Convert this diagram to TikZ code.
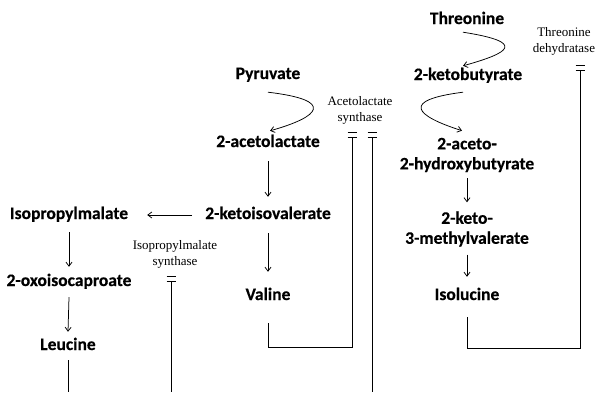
\documentclass[tikz,border=0pt]{standalone}
\usepackage{fontspec}
\setmainfont{Liberation Serif}
\newfontfamily\boldsans{Carlito}[BoldFeatures={FakeBold=0.4}]
\usetikzlibrary{arrows.meta}
\newcommand\inhbar[1]{%
  \draw[inh] ([xshift=-4.5pt]#1) -- ([xshift=4.5pt]#1);
  \draw[inh] ([xshift=-4.5pt,yshift=5pt]#1) -- ([xshift=4.5pt,yshift=5pt]#1);}
\begin{document}
\begin{tikzpicture}[x=1pt,y=-1pt,
  metbase/.style={font=\boldsans\bfseries\fontsize{17.5}{20}\selectfont, align=center,
              inner sep=0pt},
  met/.style={metbase, text height=12pt, text depth=4pt},
  mettwo/.style={metbase},
  enz/.style={font=\fontsize{13}{16}\selectfont, align=center, inner sep=0pt},
  arr/.style={-{Straight Barb[length=4pt,width=6pt]}, line width=0.75pt},
  inh/.style={line width=0.9pt}]
\useasboundingbox (0,0) rectangle (603,392);

% metabolites
\node[met] (thr) at (467,20) {Threonine};
\node[met] (kb)  at (468,76) {2-ketobutyrate};
\node[met] (pyr) at (268,75) {Pyruvate};
\node[met] (al)  at (268,143) {2-acetolactate};
\node[mettwo] (ahb) at (467,155) {2-aceto-\\2-hydroxybutyrate};
\node[mettwo] (kmv) at (467,229) {2-keto-\\3-methylvalerate};
\node[met] (iso) at (467,296) {Isolucine};
\node[met] (kiv) at (268,215) {2-ketoisovalerate};
\node[met] (val) at (268,296) {Valine};
\node[met] (ipm) at (69,215) {Isopropylmalate};
\node[met] (oic) at (69,282) {2-oxoisocaproate};
\node[met] (leu) at (68,346) {Leucine};

% enzymes
\node[enz] (td)   at (564,41)  {Threonine\\dehydratase};
\node[enz] (als)  at (360,110) {Acetolactate\\synthase};
\node[enz] (ipms) at (175,254) {Isopropylmalate\\synthase};

% curved arrows
\draw[arr] ([xshift=-4pt,yshift=-4pt]thr.south) .. controls +(64,10) and +(47,-13) .. ([xshift=-5pt,yshift=2pt]kb.north);
\draw[arr] ([xshift=-5pt,yshift=-8pt]kb.south) .. controls +(-63,8) and +(-47,-15) .. ([xshift=-5pt,yshift=7pt]ahb.north);
\draw[arr] ([yshift=-9pt]pyr.south) .. controls +(68,8) and +(50,-14) .. ([xshift=2pt,yshift=4pt]al.north);

% straight arrows
\draw[arr] ([yshift=-10pt]al.south) -- ([yshift=10pt]kiv.north);
\draw[arr] ([yshift=-10pt]kiv.south) -- ([yshift=16pt]val.north);
\draw[arr] ([xshift=-13pt]kiv.west) -- ([xshift=19pt]ipm.east);
\draw[arr] ([yshift=-9pt]ipm.south) -- ([yshift=7pt]oic.north);
\draw[arr] ([yshift=-7pt]oic.south) -- ([yshift=6pt]leu.north);
\draw[arr] ([yshift=-6pt]ahb.south) -- ([yshift=9pt]kmv.north);
\draw[arr] ([yshift=-8pt]kmv.south) -- ([yshift=11pt]iso.north);

% inhibition bars
\coordinate (alsL) at (352,137);
\coordinate (alsR) at (372,137);
\coordinate (tdb)  at (580,70);
\coordinate (ipmb) at (171,281);
\coordinate (bot1) at (372,392);
\coordinate (bot2) at (68,392);
\coordinate (bot3) at (171,392);
\inhbar{alsL}
\inhbar{alsR}
\inhbar{tdb}
\inhbar{ipmb}

\draw[inh] ([yshift=-19pt]val.south) -- ++(0,24) -| (alsL);
\draw[inh] ([yshift=-13pt]iso.south) -- ++(0,31) -| (tdb);
\draw[inh] (alsR) -- (bot1);
\draw[inh] (ipmb) -- (bot3);
\draw[inh] ([yshift=-6pt]leu.south) -- (bot2);
\end{tikzpicture}
\end{document}
